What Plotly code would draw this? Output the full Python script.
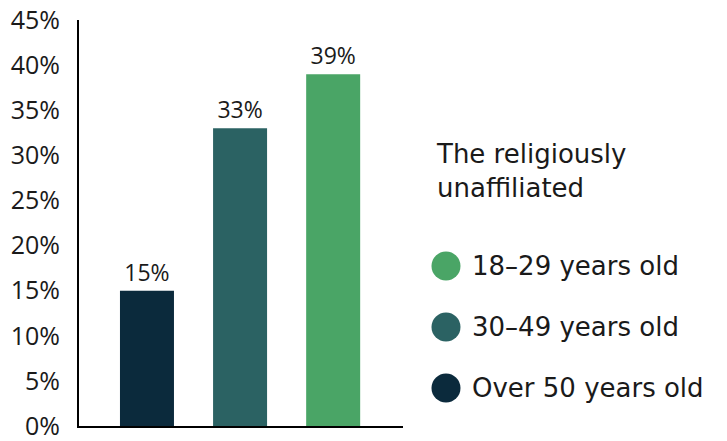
import plotly.graph_objects as go

categories = ["Over 50 years old", "30–49 years old", "18–29 years old"]
values = [15, 33, 39]
labels = ["15%", "33%", "39%"]
colors = ["#0b2a3c", "#2b6263", "#4aa566"]
tick_vals = [0, 5, 10, 15, 20, 25, 30, 35, 40, 45]
tick_text = [f"{v}%" for v in tick_vals]
legend_title = "The religiously<br>unaffiliated"

W, H = 727, 441
ml, mr, mt, mb = 79, W - 403, 20, 15

fig = go.Figure()
fig.add_trace(go.Bar(
    x=categories, y=values, text=labels, textposition="outside",
    marker=dict(color=colors, line=dict(width=0)), width=0.58,
    textfont=dict(family="Open Sans", size=23, color="#1a1a1a"),
    cliponaxis=False, showlegend=False,
))

fig.update_layout(
    width=W, height=H, margin=dict(l=ml, r=mr, t=mt, b=mb, autoexpand=False),
    paper_bgcolor="white", plot_bgcolor="white",
    font=dict(family="Open Sans", color="#1a1a1a"),
    xaxis=dict(range=[-0.73, 2.75], showticklabels=False, ticks="",
               showgrid=False, showline=True, linecolor="black", linewidth=2,
               zeroline=False, fixedrange=True, automargin=False),
    yaxis=dict(range=[0, 45], tickvals=tick_vals, ticktext=tick_text,
               showgrid=False, showline=True, linecolor="black", linewidth=2,
               zeroline=False, ticks="outside", ticklen=12,
               tickcolor="rgba(0,0,0,0)", automargin=False,
               ticklabeloverflow="allow",
               tickfont=dict(family="Open Sans", size=25, color="#1a1a1a")),
)

def px_x(px):
    return (px - ml) / (W - ml - mr)

def px_y(py):
    return (H - mb - py) / (H - mt - mb)

fig.add_annotation(xref="paper", yref="paper", x=px_x(434), y=px_y(137),
                   xanchor="left", yanchor="top", align="left", showarrow=False,
                   text=legend_title,
                   font=dict(family="DejaVu Sans", size=26, color="#1a1a1a"))

leg_y = [388, 327, 266]
for i, (cat, col) in enumerate(zip(categories, colors)):
    cy = leg_y[i]
    fig.add_shape(type="circle", xref="paper", yref="paper",
                  xsizemode="pixel", ysizemode="pixel",
                  xanchor=px_x(446), yanchor=px_y(cy),
                  x0=-14.5, x1=14.5, y0=-14.5, y1=14.5,
                  fillcolor=col, line=dict(width=0))
    fig.add_annotation(xref="paper", yref="paper", x=px_x(470), y=px_y(cy),
                       xanchor="left", yanchor="middle", showarrow=False,
                       text=cat, font=dict(family="DejaVu Sans", size=26, color="#1a1a1a"))

fig.write_html("out.html")
